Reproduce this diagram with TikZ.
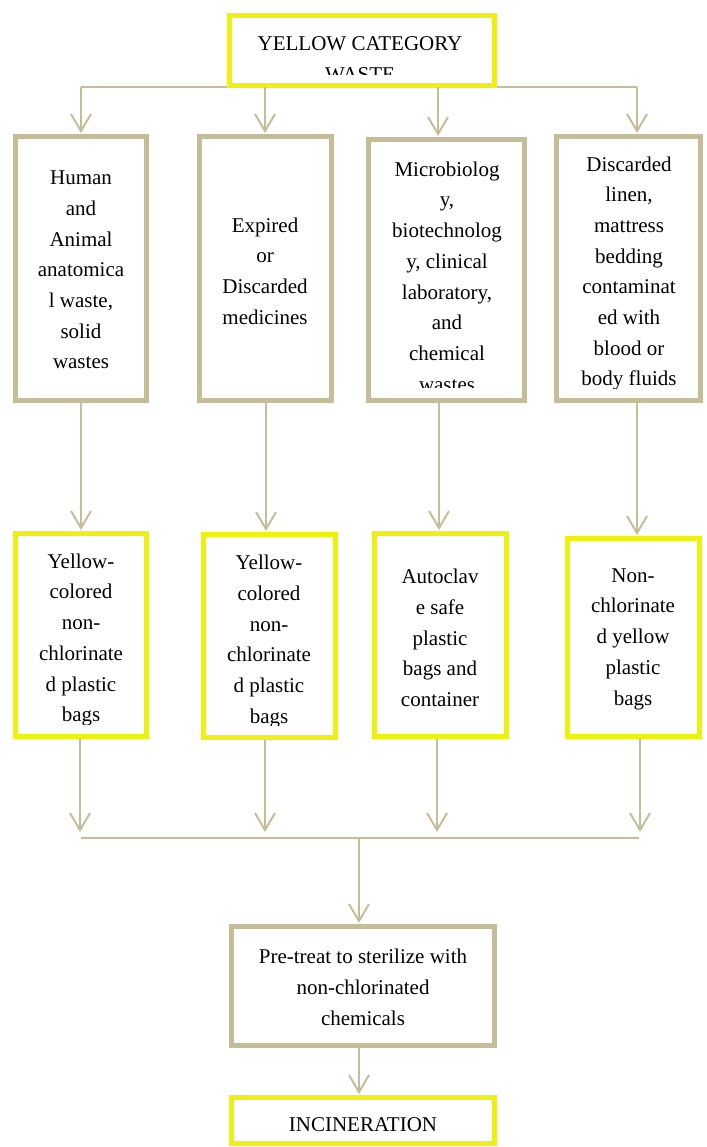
\documentclass[tikz,border=0pt]{standalone}
\usepackage{fontspec}
\setmainfont{Liberation Serif}
\usetikzlibrary{arrows.meta,calc}
\definecolor{tanc}{RGB}{196,189,151}
\definecolor{ylw}{RGB}{238,240,16}
\tikzset{
  boxbase/.style={line width=5pt, inner sep=0pt, fill=white},
  tanbox/.style={boxbase, draw=tanc},
  ylwbox/.style={boxbase, draw=ylw},
  txt/.style={font=\fontsize{21}{30.7}\selectfont, align=center, text=black, inner sep=0pt},
  conn/.style={draw=tanc, line width=2pt},
  arr/.style={conn, -{Straight Barb[length=17pt,width=20pt,line width=2pt]}, shorten >=1pt}
}
\begin{document}
\begin{tikzpicture}[x=1pt,y=-1pt]
\useasboundingbox (0,0) rectangle (706,1147);

% ---- top box
\node[ylwbox, minimum width=265pt, minimum height=70pt] (top) at (362,50.5) {};
\begin{scope}
  \clip (230,18) rectangle (494,75);
  \node[txt] (toptxt) at (360,59) {YELLOW CATEGORY\\WASTE};
\end{scope}

% ---- row 1
\node[tanbox, minimum width=131pt, minimum height=264pt] (b1) at (81,268.5) {};
\node[txt] (b1t) at (81,270) {Human\\and\\Animal\\anatomica\\l waste,\\solid\\wastes};
\node[tanbox, minimum width=132pt, minimum height=264pt] (b2) at (265.5,268.5) {};
\node[txt] (b2t) at (265,271) {Expired\\or\\Discarded\\medicines};
\node[tanbox, minimum width=156pt, minimum height=261pt] (b3) at (446.5,270) {};
\begin{scope}
  \clip (370,141) rectangle (523,387);
  \node[txt] (b3t) at (447,276.5) {Microbiolog\\y,\\biotechnolog\\y, clinical\\laboratory,\\and\\chemical\\wastes};
\end{scope}
\node[tanbox, minimum width=144pt, minimum height=264pt] (b4) at (628.5,268.5) {};
\begin{scope}
  \clip (558,138) rectangle (699,388);
  \node[txt] (b4t) at (629,273.5) {Discarded\\linen,\\mattress\\bedding\\contaminat\\ed with\\blood or\\body fluids};
\end{scope}

% ---- row 2
\node[ylwbox, minimum width=131pt, minimum height=203pt] (y1) at (81,635) {};
\begin{scope}
  \clip (17,535) rectangle (145,724);
  \node[txt] (y1t) at (81,640) {Yellow-\\colored\\non-\\chlorinate\\d plastic\\bags};
\end{scope}
\node[ylwbox, minimum width=132pt, minimum height=203pt] (y2) at (269.5,636) {};
\begin{scope}
  \clip (205,536) rectangle (334,725);
  \node[txt] (y2t) at (269,641.5) {Yellow-\\colored\\non-\\chlorinate\\d plastic\\bags};
\end{scope}
\node[ylwbox, minimum width=132pt, minimum height=203pt] (y3) at (440.5,635) {};
\node[txt] (y3t) at (440,638) {Autoclav\\e safe\\plastic\\bags and\\container};
\node[ylwbox, minimum width=132pt, minimum height=198pt] (y4) at (633.5,637.5) {};
\node[txt] (y4t) at (633,639) {Non-\\chlorinate\\d yellow\\plastic\\bags};

% ---- bottom
\node[tanbox, minimum width=263pt, minimum height=119pt] (pre) at (363,986) {};
\node[txt] (pret) at (363,987.5) {Pre-treat to sterilize with\\non-chlorinated\\chemicals};
\node[ylwbox, minimum width=263pt, minimum height=46pt] (inc) at (363,1120.5) {};
\node[txt] (inct) at (363,1125) {INCINERATION};

% ---- connectors: top to row 1
\coordinate (tl) at (81,87);
\coordinate (tr) at (637,87);
\coordinate (t2) at (265,87);
\coordinate (t3) at (438,87);
\draw[conn] (tl) -- (tl -| top.west);
\draw[conn] (tr) -- (tr -| top.east);
\draw[arr] (tl) -- (tl |- b1.north);
\draw[arr] (t2) -- (t2 |- b2.north);
\draw[arr] (t3) -- (t3 |- b3.north);
\draw[arr] (tr) -- (tr |- b4.north);

% ---- row 1 to row 2
\coordinate (m1) at (81,403);
\coordinate (m2) at (266,403);
\coordinate (m3) at (439,403);
\coordinate (m4) at (637,403);
\draw[arr] (m1) -- (m1 |- y1.north);
\draw[arr] (m2) -- (m2 |- y2.north);
\draw[arr] (m3) -- (m3 |- y3.north);
\draw[arr] (m4) -- (m4 |- y4.north);

% ---- row 2 to collector line
\coordinate (e1) at (80,833);
\coordinate (e2) at (265,833);
\coordinate (e3) at (437,833);
\coordinate (e4) at (640,833);
\draw[arr] (e1 |- y1.south) -- (e1);
\draw[arr] (e2 |- y2.south) -- (e2);
\draw[arr] (e3 |- y3.south) -- (e3);
\draw[arr] (e4 |- y4.south) -- (e4);
\coordinate (hl) at (81,838);
\coordinate (hr) at (639,838);
\coordinate (hc) at (359,838);
\draw[conn] (hl) -- (hr);
\draw[arr] (hc) -- (hc |- pre.north);
\coordinate (pc) at (359,1048);
\draw[arr] (pc |- pre.south) -- (pc |- inc.north);
\end{tikzpicture}
\end{document}
